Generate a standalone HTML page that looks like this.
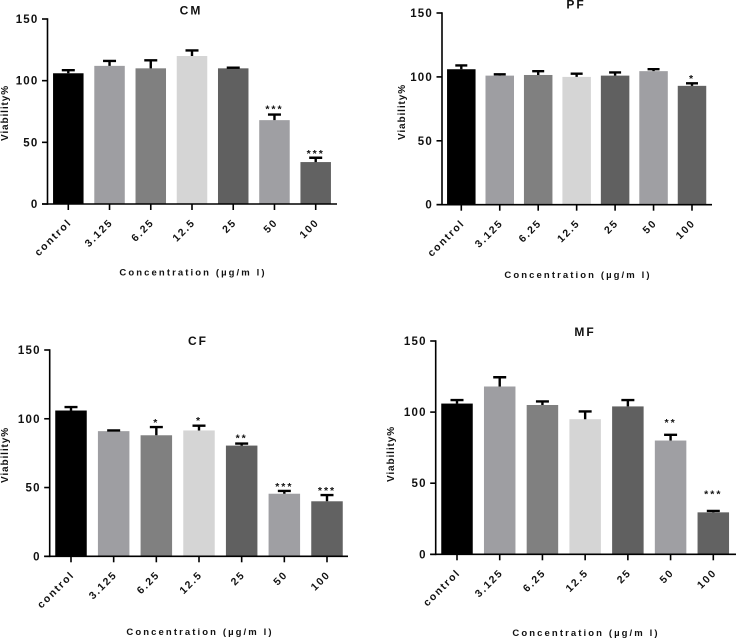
<!DOCTYPE html>
<html lang="en">
<head>
<meta charset="utf-8">
<title>Viability by concentration</title>
<style>
html,body{margin:0;padding:0;background:#fff;width:736px;height:638px;overflow:hidden}
svg{display:block;filter:blur(0.3px)}
text{font-family:"Liberation Sans",sans-serif;fill:#111;font-weight:bold}
</style>
</head>
<body>
<svg id="figure" width="736" height="638" viewBox="0 0 736 638" xmlns="http://www.w3.org/2000/svg"></svg>
<script>
const categories = ['control', '3.125', '6.25', '12.5', '25', '50', '100'];
const yTicks = [0, 50, 100, 150];
const barColors = ['#000000', '#9e9ea2', '#808080', '#d5d5d5', '#606060', '#9f9fa3', '#626262'];

const cmValues = [106, 112, 110, 120, 110, 68, 34];
const cmErrorTops = [108.5, 116, 116.5, 124.5, 110.5, 72.5, 37.5];
const cmStars = ['', '', '', '', '', '***', '***'];
const cmStarLevels = [0, 0, 0, 0, 0, 79, 43];

const pfValues = [106, 101, 101.5, 100, 101, 104.5, 93];
const pfErrorTops = [109, 102, 104.5, 102.5, 103.5, 106, 95];
const pfStars = ['', '', '', '', '', '', '*'];
const pfStarLevels = [0, 0, 0, 0, 0, 0, 100.7];

const cfValues = [106, 91, 88, 91.5, 80.5, 45.5, 40];
const cfErrorTops = [108.5, 91.5, 94, 95, 82, 47.5, 44.5];
const cfStars = ['', '', '*', '*', '**', '***', '***'];
const cfStarLevels = [0, 0, 99, 100.5, 88, 52.5, 49.5];

const mfValues = [106, 118, 105, 95, 104, 80, 29.5];
const mfErrorTops = [108.5, 124.5, 107.5, 100.5, 108.5, 84, 30.5];
const mfStars = ['', '', '', '', '', '**', '***'];
const mfStarLevels = [0, 0, 0, 0, 0, 94.5, 44];

const NS = 'http://www.w3.org/2000/svg';
const figure = document.getElementById('figure');

function make(parent, tag, attrs, content) {
  const el = document.createElementNS(NS, tag);
  for (const k in attrs) el.setAttribute(k, attrs[k]);
  if (content !== undefined) el.textContent = content;
  parent.appendChild(el);
  return el;
}

function drawPanel(p, values, errorTops, stars, starLevels) {
  const g = make(figure, 'g', {});
  
  

  const yScale = v => p.y0 + (p.y150 - p.y0) * v / 150;
  const xScale = i => p.first + (p.last - p.first) * i / (categories.length - 1);

  const title = make(g, 'text', {x: p.titleX, y: p.titleY, 'text-anchor': 'middle', 'font-size': 12, 'letter-spacing': 2}, p.title);
  
  

  values.forEach((v, i) => {
    const cx = xScale(i);
    const bar = make(g, 'rect', {x: cx - p.barW / 2, y: yScale(v), width: p.barW, height: p.y0 - yScale(v), fill: barColors[i]});
    
    

    const err = make(g, 'path', {
      d: 'M' + cx + ' ' + yScale(v) + 'V' + yScale(errorTops[i]) + 'M' + (cx - p.capW / 2) + ' ' + yScale(errorTops[i]) + 'H' + (cx + p.capW / 2),
      stroke: '#000', 'stroke-width': 2.4, fill: 'none'
    });
    
    

    if (stars[i]) {
      const star = make(g, 'text', {x: cx, y: yScale(starLevels[i]) + 6, 'text-anchor': 'middle', 'font-size': 10.5, 'font-weight': 'normal', 'letter-spacing': 2}, stars[i]);
      
      
    }

    const tick = make(g, 'line', {x1: cx, x2: cx, y1: p.y0, y2: p.y0 + 6, stroke: '#000', 'stroke-width': 1.6});
    
    

    const lx = cx + 4, ly = p.y0 + 19;
    const label = make(g, 'text', {x: lx, y: ly, 'text-anchor': 'end', 'font-size': 10.5, 'letter-spacing': 1.7, transform: 'rotate(-45 ' + lx + ' ' + ly + ')'}, categories[i]);
    
    
  });

  yTicks.forEach(t => {
    const tick = make(g, 'line', {x1: p.axisX - 5.5, x2: p.axisX, y1: yScale(t), y2: yScale(t), stroke: '#000', 'stroke-width': 1.6});
    
    

    const label = make(g, 'text', {x: p.axisX - 9, y: yScale(t) + 4, 'text-anchor': 'end', 'font-size': 11.5, 'letter-spacing': 1.2}, t);
    
    
  });

  const yAxis = make(g, 'line', {x1: p.axisX, x2: p.axisX, y1: p.y150 - 0.8, y2: p.y0 + 0.8, stroke: '#000', 'stroke-width': 1.6});
  
  

  const xAxis = make(g, 'line', {x1: p.axisX - 5.5, x2: p.axisEnd, y1: p.y0, y2: p.y0, stroke: '#000', 'stroke-width': 1.6});
  
  

  const yTitle = make(g, 'text', {x: p.yTitleX, y: p.yTitleY, 'text-anchor': 'middle', 'font-size': 10, 'letter-spacing': 0.9, transform: 'rotate(-90 ' + p.yTitleX + ' ' + p.yTitleY + ')'}, 'Viability%');
  
  

  const xTitle = make(g, 'text', {x: p.xTitleX, y: p.xTitleY, 'text-anchor': 'middle', 'font-size': 9.5, 'letter-spacing': 2.1}, 'Concentration (µg/m l)');
  
  
}

drawPanel({key: 'cm', title: 'CM', axisX: 47.5, axisEnd: 337, y0: 204, y150: 19, first: 68.3, last: 315.7, barW: 30.5, capW: 13, titleX: 191, titleY: 14.5, yTitleX: 8, yTitleY: 113, xTitleX: 193, xTitleY: 275.5}, cmValues, cmErrorTops, cmStars, cmStarLevels);
drawPanel({key: 'pf', title: 'PF', axisX: 442, axisEnd: 712, y0: 204.7, y150: 13, first: 461.3, last: 692, barW: 28.5, capW: 12, titleX: 576, titleY: 8.5, yTitleX: 405, yTitleY: 112, xTitleX: 578, xTitleY: 278}, pfValues, pfErrorTops, pfStars, pfStarLevels);
drawPanel({key: 'cf', title: 'CF', axisX: 49.7, axisEnd: 348, y0: 556.3, y150: 350, first: 71, last: 327, barW: 31.5, capW: 13, titleX: 198, titleY: 345, yTitleX: 8, yTitleY: 455, xTitleX: 200, xTitleY: 635}, cfValues, cfErrorTops, cfStars, cfStarLevels);
drawPanel({key: 'mf', title: 'MF', axisX: 435.7, axisEnd: 736, y0: 554.3, y150: 341, first: 457, last: 713.3, barW: 31.5, capW: 13, titleX: 585, titleY: 336, yTitleX: 394, yTitleY: 454, xTitleX: 586, xTitleY: 636}, mfValues, mfErrorTops, mfStars, mfStarLevels);
</script>
</body>
</html>
